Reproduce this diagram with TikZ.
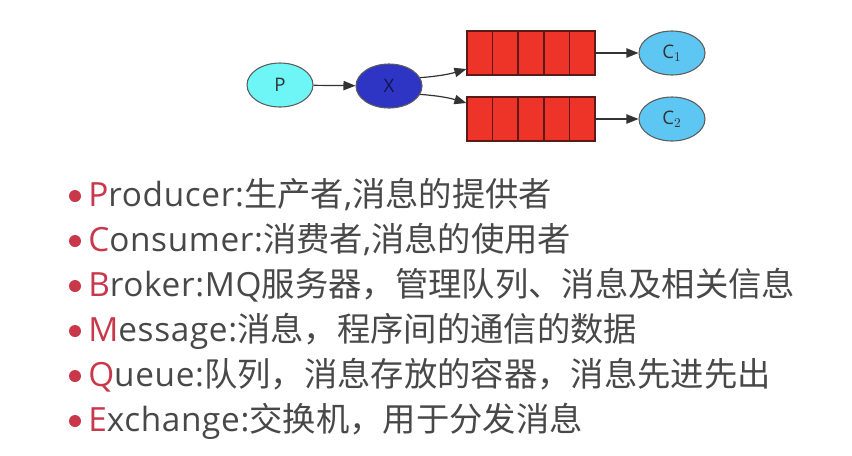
\documentclass[tikz,border=0pt]{standalone}
\usepackage{fontspec}
\setmainfont{Open Sans}
\newfontfamily\latin{Open Sans}[LetterSpace=2]
\newfontfamily\cjk{Noto Sans CJK SC}
\usetikzlibrary{shapes.geometric,arrows.meta,calc}
\definecolor{pfill}{HTML}{6EF6F6}
\definecolor{xfill}{HTML}{2E35C5}
\definecolor{qfill}{HTML}{EE3328}
\definecolor{qline}{HTML}{5A1A18}
\definecolor{cfill}{HTML}{5EC6F2}
\definecolor{txt}{HTML}{484848}
\definecolor{accent}{HTML}{C9374A}
\definecolor{edge}{HTML}{333333}
\tikzset{
  ell/.style={ellipse, draw=edge!80, line width=0.8pt, minimum width=49.5pt, minimum height=33pt, inner sep=0pt, font=\fontsize{14}{16}\selectfont},
  queue/.style={rectangle, draw=qline, fill=qfill, line width=0.9pt, minimum width=96pt, minimum height=33pt, inner sep=0pt},
  conn/.style={draw=edge, line width=0.9pt, -{Triangle[length=9pt,width=7pt]}},
  bullet/.style={circle, fill=accent, minimum size=9pt, inner sep=0pt},
  line/.style={anchor=base west, inner sep=0pt, text=txt, font=\latin\fontsize{25}{29}\selectfont},
}
\newcommand{\acc}[1]{\textcolor{accent}{#1}}
\begin{document}
\begin{tikzpicture}[x=0.75pt,y=-0.75pt]
\useasboundingbox[fill=white] (0,0) rectangle (852,455);
% diagram
\node[ell, fill=pfill, text=edge] (p) at (280,85) {P};
\node[ell, fill=xfill, text=xfill!40!black] (x) at (389,86) {X};
\node[queue] (q1) at (531,53) {};
\node[queue] (q2) at (531,119) {};
\foreach \q in {q1,q2}{
  \foreach \i in {1,...,4}{
    \draw[qline, line width=0.9pt] ($(\q.north west)!\i/5!(\q.north east)$) -- ($(\q.south west)!\i/5!(\q.south east)$);
  }
}
\node[ell, fill=cfill, text=edge] (c1) at (672,53) {C$_1$};
\node[ell, fill=cfill, text=edge] (c2) at (672,119) {C$_2$};
\draw[conn] (p) -- (x);
\draw[conn] (x.15) to[bend right=6] ([yshift=-12pt]q1.west);
\draw[conn] (x.-15) to[bend left=6] ([yshift=12pt]q2.west);
\draw[conn] (q1) -- (c1);
\draw[conn] (q2) -- (c2);
% bullet list
\node[bullet] (b1) at (75,196) {};
\node[bullet] (b2) at (75,241) {};
\node[bullet] (b3) at (75,286) {};
\node[bullet] (b4) at (75,331) {};
\node[bullet] (b5) at (75,376) {};
\node[bullet] (b6) at (75,421) {};
\node[line] (l1) at (88,206) {\acc{P}roducer:{\cjk 生产者},{\cjk 消息的提供者}};
\node[line] (l2) at (88,251) {\acc{C}onsumer:{\cjk 消费者},{\cjk 消息的使用者}};
\node[line] (l3) at (88,296) {\acc{B}roker:MQ{\cjk 服务器，管理队列、消息及相关信息}};
\node[line] (l4) at (88,341) {\acc{M}essage:{\cjk 消息，程序间的通信的数据}};
\node[line] (l5) at (88,386) {\acc{Q}ueue:{\cjk 队列，消息存放的容器，消息先进先出}};
\node[line] (l6) at (88,431) {\acc{E}xchange:{\cjk 交换机，用于分发消息}};
\end{tikzpicture}
\end{document}
